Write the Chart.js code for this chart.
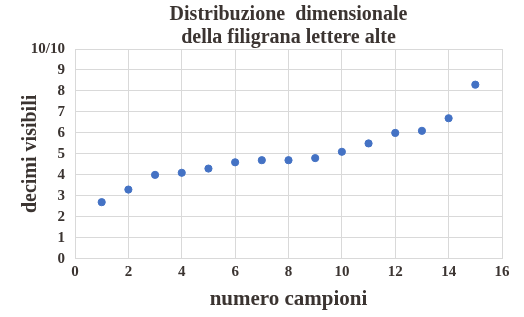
<!DOCTYPE html>
<html>
<head>
<meta charset="utf-8">
<script src="https://cdn.jsdelivr.net/npm/chart.js@4/dist/chart.umd.min.js"></script>
<style>
  html, body { margin: 0; padding: 0; background: #fff; }
  #wrap { width: 524px; height: 317px; }
</style>
</head>
<body>
<div id="wrap"><canvas id="scatterChart"></canvas></div>
<script>
// data
const samples = [1, 2, 3, 4, 5, 6, 7, 8, 9, 10, 11, 12, 13, 14, 15];
const decimi = [2.7, 3.3, 4.0, 4.1, 4.3, 4.6, 4.7, 4.7, 4.8, 5.1, 5.5, 6.0, 6.1, 6.7, 8.3];
const titleLines = ['Distribuzione  dimensionale', 'della filigrana lettere alte'];

const textColor = '#3b3431';
const gridColor = '#d9d9d9';
const serif = "'Liberation Serif', 'Times New Roman', serif";

// title centred over the plot area, like the original
const plotTitle = {
    id: 'plotTitle',
    afterDraw(chart) {
        const { ctx, chartArea } = chart;
        const cx = (chartArea.left + chartArea.right) / 2;
        ctx.save();
        ctx.fillStyle = textColor;
        ctx.font = `bold 20px ${serif}`;
        ctx.textAlign = 'center';
        ctx.textBaseline = 'middle';
        ctx.fillText(titleLines[0], cx, 15);
        ctx.fillText(titleLines[1], cx, 38);
        ctx.restore();
    }
};

new Chart(document.getElementById('scatterChart'), {
    type: 'scatter',
    data: {
        datasets: [{
            data: samples.map((x, i) => ({ x: x, y: decimi[i] })),
            backgroundColor: '#4472c4',
            borderColor: '#4472c4',
            pointRadius: 3.6,
            pointHoverRadius: 5
        }]
    },
    options: {
        responsive: true,
        maintainAspectRatio: false,
        animation: false,
        layout: { padding: { top: 49, right: 22, left: 19, bottom: 5 } },
        plugins: {
            legend: { display: false },
            tooltip: { enabled: false }
        },
        scales: {
            x: {
                type: 'linear',
                min: 0,
                max: 16,
                ticks: {
                    stepSize: 2,
                    color: textColor,
                    font: { family: serif, size: 15, weight: 'bold' },
                    padding: 4
                },
                grid: { color: gridColor, drawTicks: false },
                border: { color: gridColor },
                title: {
                    display: true,
                    text: 'numero campioni',
                    color: textColor,
                    font: { family: serif, size: 21, weight: 'bold' },
                    padding: { top: 2, bottom: 0 }
                }
            },
            y: {
                min: 0,
                max: 10,
                afterFit: scale => { scale.width = 56; },
                ticks: {
                    stepSize: 1,
                    autoSkip: false,
                    color: textColor,
                    font: { family: serif, size: 15, weight: 'bold' },
                    padding: 10,
                    callback: v => v === 10 ? '10/10' : v
                },
                grid: { color: gridColor, drawTicks: false },
                border: { color: gridColor },
                title: {
                    display: true,
                    text: 'decimi visibili',
                    color: textColor,
                    font: { family: serif, size: 20, weight: 'bold' },
                    padding: { top: 0, bottom: 0 }
                }
            }
        }
    },
    plugins: [plotTitle]
});
</script>
</body>
</html>
